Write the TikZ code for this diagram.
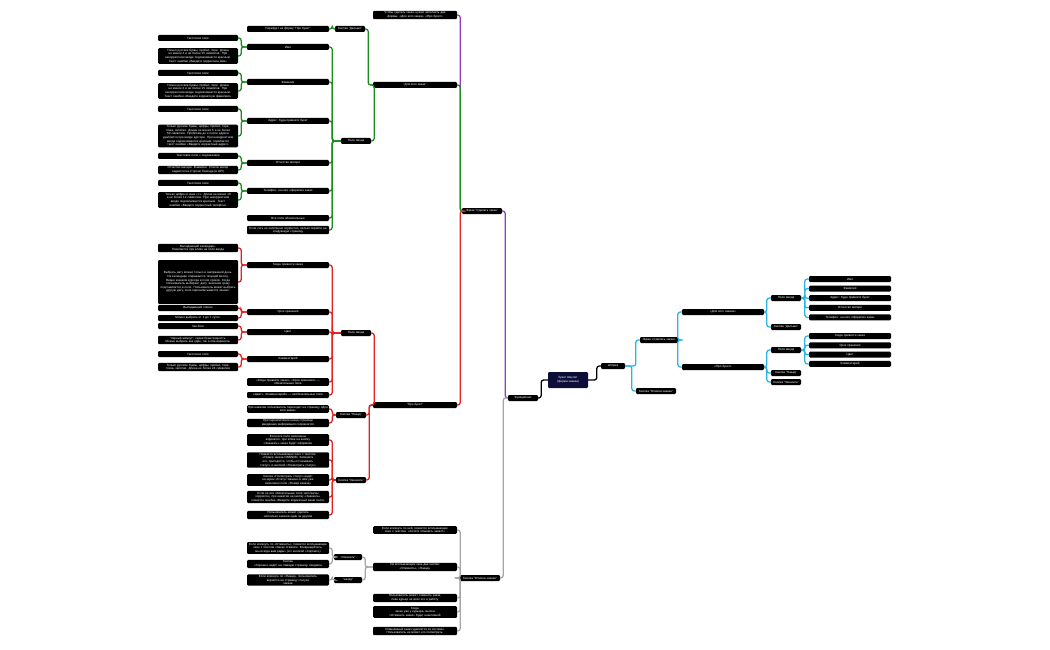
\documentclass[tikz,border=0pt]{standalone}
\usepackage{fontspec}
\setmainfont{Liberation Sans}
\usetikzlibrary{positioning}
\definecolor{cgreen}{HTML}{1E8C1E}
\definecolor{cred}{HTML}{E32222}
\definecolor{cpurple}{HTML}{8E3FBF}
\definecolor{cgray}{HTML}{A6A6A6}
\definecolor{cblue}{HTML}{2BB5E0}
\definecolor{cnavy}{HTML}{0D0D3A}
\tikzset{box/.style={fill=black, text=white, rounded corners=1.2pt, font=\fontsize{3}{3.6}\selectfont,
  align=center, inner sep=1pt, minimum height=6pt, text width=#1},
  box/.default=78pt,
  lnk/.style={line width=1.3pt, rounded corners=2.5pt}}
% child on the left of parent / child on the right of parent
\newcommand\lnkL[3]{\draw[lnk,#1] (#2.east) -- ++(3,0) |- (#3.west);}
\newcommand\lnkR[3]{\draw[lnk,#1] (#2.west) -- ++(-4,0) |- (#3.east);}
\begin{document}
\begin{tikzpicture}[x=1pt,y=-1pt]
	\useasboundingbox (0,0) rectangle (1050,650);
	% spine
	\node[box=38pt, fill=cnavy, minimum height=16pt] (root) at (568,380) {Букет Амулет\\(форма заказа)};
	\node[box=28pt] (func) at (523,398) {Функционал};
	\node[box=22pt] (shtorka) at (613,366) {Шторка};
	\node[box=38pt] (screen) at (482,211) {Экран "Сделать заказ"};
	\node[box=82pt] (intro) at (415,15) {Чтобы сделать заказ, нужно заполнить две формы: «Для кого заказ», «Про букет»};
	\node[box=82pt] (forwhom) at (415,85) {"Для кого заказ"};
	\node[box=82pt] (bouquet) at (415,405) {"Про букет"};
	\node[box=38pt] (cancel) at (480,578) {Кнопка "Отмена заказа"};
	\lnkL{black}{func}{root}
	\lnkR{black}{shtorka}{root}
	\lnkL{cpurple}{screen}{func}
	\lnkL{cgray}{cancel}{func}
	\lnkL{cpurple}{intro}{screen}
	\lnkL{cgreen}{forwhom}{screen}
	\lnkL{cred}{bouquet}{screen}

	% green: для кого заказ
	\node[box=28pt] (gnext) at (350,29) {Кнопка "Дальше"};
	\node[box=80pt] (gnextA) at (288,29) {Перейдет на форму "Про букет"};
	\node[box=28pt] (ginput) at (356,141) {Поле ввода};
	\node[box=80pt] (gname) at (288,47) {Имя};
	\node[box=80pt] (gsur) at (288,82) {Фамилия};
	\node[box=80pt] (gaddr) at (288,121) {Адрес: Куда привезти букет};
	\node[box=80pt] (gmom) at (288,163) {Отчество матери};
	\node[box=80pt] (gphone) at (288,191) {Телефон: на кого оформлен заказ};
	\node[box=80pt] (gall) at (288,218) {Все поля обязательные};
	\node[box=80pt] (gerr) at (288,230) {Если хоть не заполнено корректно, нельзя перейти на\\следующую страницу};
	\lnkL{cgreen}{gnext}{forwhom}
	\lnkL{cgreen}{gnextA}{gnext}
	\lnkL{cgreen}{ginput}{forwhom}
	\foreach \n in {gname,gsur,gaddr,gmom,gphone,gall,gerr} {\lnkL{cgreen}{\n}{ginput}}
	\node[box] (gnameT) at (198,38) {Текстовое поле};
	\node[box] (gnameD) at (198,56) {Только русские буквы, пробел, тире. Длина не менее 2 и не более 15 символов. При некорректном вводе подсвечивается красным. Текст ошибки «Введите корректное имя»};
	\node[box] (gsurT) at (198,73) {Текстовое поле};
	\node[box] (gsurD) at (198,91) {Только русские буквы, пробел, тире. Длина не менее 2 и не более 15 символов. При некорректном вводе подсвечивается красным. Текст ошибки «Введите корректную фамилию»};
	\node[box] (gaddrT) at (198,109) {Текстовое поле};
	\node[box] (gaddrD) at (198,136) {Только русские буквы, цифры, пробел, тире, точка, запятая. Длина не менее 5 и не более 50 символов. Проблема до и после адреса удаляются при вводе курсора. При некорректном вводе подсвечивается красным, появляется текст ошибки «Введите корректный адрес»};
	\node[box] (gmomT) at (198,156) {Текстовое поле с подсказками};
	\node[box] (gmomD) at (198,170) {Отчество матери. Фамилия. Список матер задается на стороне бэкенда (в API)};
	\node[box] (gphoneT) at (198,183) {Текстовое поле};
	\node[box] (gphoneD) at (198,200) {Только цифры и знак «+». Длина не менее 10 и не более 12 символов. При некорректном вводе подсвечивается красным. Текст ошибки «Введите корректный телефон»};
	\foreach \a/\b in {gnameT/gname,gnameD/gname,gsurT/gsur,gsurD/gsur,gaddrT/gaddr,gaddrD/gaddr,gmomT/gmom,gmomD/gmom,gphoneT/gphone,gphoneD/gphone} {\lnkL{cgreen}{\a}{\b}}

	% red: про букет
	\node[box=28pt] (rinput) at (356,333) {Поле ввода};
	\node[box=80pt] (rwhen) at (288,265) {Когда привезти заказ};
	\node[box=80pt] (rterm) at (288,312) {Срок хранения};
	\node[box=80pt] (rcolor) at (288,332) {Цвет};
	\node[box=80pt] (rcomm) at (288,359) {Комментарий};
	\node[box=80pt] (rreq) at (288,382) {«Когда привезти заказ», «Срок хранения» —\\обязательные поля};
	\node[box=80pt] (ropt) at (288,395) {«Цвет», «Комментарий» — необязательные поля};
	\lnkL{cred}{rinput}{bouquet}
	\foreach \n in {rwhen,rterm,rcolor,rcomm,rreq,ropt} {\lnkL{cred}{\n}{rinput}}
	\node[box] (rwhenT) at (198,248) {Выпадающий календарь. Появляется при клике на поле ввода};
	\node[box, minimum height=44pt] (rwhenD) at (198,282) {Выбрать дату можно только в завтрашний день. На календаре открывается текущий месяц. Видно значком курсора в поле сроков. Когда пользователь выбирает дату, значение сразу подставляется в поле. Пользователь может выбрать другую дату, поле перезаписывается заново.};
	\node[box] (rtermT) at (198,308) {Выпадающий список};
	\node[box] (rtermD) at (198,318) {Можно выбрать от 1 до 7 суток.};
	\node[box] (rcolorT) at (198,326) {Чек-бокс};
	\node[box] (rcolorD) at (198,340) {"Черный жемчуг", серая безысходность. Можно выбрать как один, так и оба варианта.};
	\node[box] (rcommT) at (198,354) {Текстовое поле};
	\node[box] (rcommD) at (198,367) {Только русские буквы, цифры, пробел, тире, точка, запятая. Длина не более 24 символов};
	\foreach \a/\b in {rwhenT/rwhen,rwhenD/rwhen,rtermT/rterm,rtermD/rterm,rcolorT/rcolor,rcolorD/rcolor,rcommT/rcomm,rcommD/rcomm} {\lnkL{cred}{\a}{\b}}
	\node[box=28pt] (rback) at (351,415) {Кнопка "Назад"};
	\node[box=80pt] (rbackA) at (288,409) {При нажатии пользователь переходит на страницу «Для\\кого заказ»};
	\node[box=80pt] (rbackB) at (288,423) {При переключении назад страницы введённая информация сохраняется};
	\node[box=28pt] (rorder) at (351,480) {Кнопка "Заказать"};
	\node[box=80pt] (rordA) at (288,440) {Если все поля заполнены корректно, при клике на кнопку\\«Заказать» заказ будет оформлен};
	\node[box=80pt] (rordB) at (288,460) {Появится всплывающее окно с текстом:\\«Номер заказа NNNNNN. Запишите его, пригодится, чтобы отслеживать\\статус» и кнопкой «Посмотреть статус»};
	\node[box=80pt] (rordC) at (288,480) {Кнопка «Посмотреть статус» ведёт\\на экран «Статус заказа» в нём уже заполнено поле «Номер заказа»};
	\node[box=80pt] (rordD) at (288,497) {Если не все обязательные поля заполнены корректно, при нажатии на кнопку «Заказать» появится ошибка «Введите корректный ваши поля»};
	\node[box=80pt] (rordE) at (288,515) {Пользователь может сделать несколько заказов один за другим};
	\lnkL{cred}{rback}{bouquet}
	\lnkL{cred}{rorder}{bouquet}
	\foreach \n in {rbackA,rbackB} {\lnkL{cred}{\n}{rback}}
	\foreach \n in {rordA,rordB,rordC,rordD,rordE} {\lnkL{cred}{\n}{rorder}}

	% gray: отмена заказа
	\node[box=82pt] (kA) at (415,530) {Если кликнуть по ней, появится всплывающее окно с текстом: «Хотите отменить заказ?»};
	\node[box=82pt] (kB) at (415,567) {На всплывающем окне две кнопки:\\«Отменить», «Назад»};
	\node[box=82pt] (kC) at (415,598) {Пользователь может отменить заказ, пока курьер не взял его в работу};
	\node[box=82pt] (kD) at (415,612) {Когда\\заказ уже у курьера, кнопка «Отменить заказ» будет неактивной};
	\node[box=82pt] (kE) at (415,631) {Отменённый заказ удаляется из системы. Пользователь не может его посмотреть.};
	\foreach \n in {kA,kB,kC,kD,kE} {\lnkL{cgray}{\n}{cancel}}
	\node[box=26pt] (kyes) at (348,557) {"отменить"};
	\node[box=26pt] (kno) at (348,580) {"назад"};
	\node[box=80pt] (kyesA) at (288,548) {Если кликнуть по «Отменить», появится всплывающее окно с текстом «Заказ отменён. Возвращайтесь, мы всегда вам рады» (и с кнопкой «Хорошо»)};
	\node[box=80pt] (kyesB) at (288,564) {Кнопка\\«Хорошо» ведёт на главную страницу лендинга};
	\node[box=80pt] (knoA) at (288,580) {Если кликнуть по «Назад», пользователь вернётся на страницу статуса\\заказа};
	\lnkL{cgray}{kyes}{kB}
	\lnkL{cgray}{kno}{kB}
	\foreach \n in {kyesA,kyesB} {\lnkL{cgray}{\n}{kyes}}
	\lnkL{cgray}{knoA}{kno}

	% blue: шторка
	\node[box=36pt] (bscreen) at (659,340) {Экран «Сделать заказ»};
	\node[box=38pt] (bcancel) at (656,391) {Кнопка "Отмена заказа"};
	\node[box=80pt] (bwhom) at (723,312) {«Для кого заказа»};
	\node[box=80pt] (bbouq) at (723,367) {«Про букет»};
	\lnkR{cblue}{bscreen}{shtorka}
	\lnkR{cblue}{bcancel}{shtorka}
	\lnkR{cblue}{bwhom}{bscreen}
	\lnkR{cblue}{bbouq}{bscreen}
	\node[box=28pt] (bwin) at (786,298) {Поле ввода};
	\node[box=28pt] (bwnext) at (786,327) {Кнопка "Дальше"};
	\lnkR{cblue}{bwin}{bwhom}
	\lnkR{cblue}{bwnext}{bwhom}
	\foreach \t [count=\i] in {Имя,Фамилия,Адрес: Куда привезти букет,Отчество матери,Телефон: на кого оформлен заказ} {
		\node[box=80pt] (bw\i) at (850,{279+(\i-1)*9.6}) {\t};
		\lnkR{cblue}{bw\i}{bwin}
	}
	\node[box=28pt] (bbin) at (786,350) {Поле ввода};
	\node[box=28pt] (bbback) at (786,373) {Кнопка "Назад"};
	\node[box=28pt] (bborder) at (786,382) {Кнопка "Заказать"};
	\foreach \n in {bbin,bbback,bborder} {\lnkR{cblue}{\n}{bbouq}}
	\foreach \t [count=\i] in {Когда привезти заказ,Срок хранения,Цвет,Комментарий} {
		\node[box=80pt] (bb\i) at (850,{336+(\i-1)*9.3}) {\t};
		\lnkR{cblue}{bb\i}{bbin}
	}
\end{tikzpicture}
\end{document}
